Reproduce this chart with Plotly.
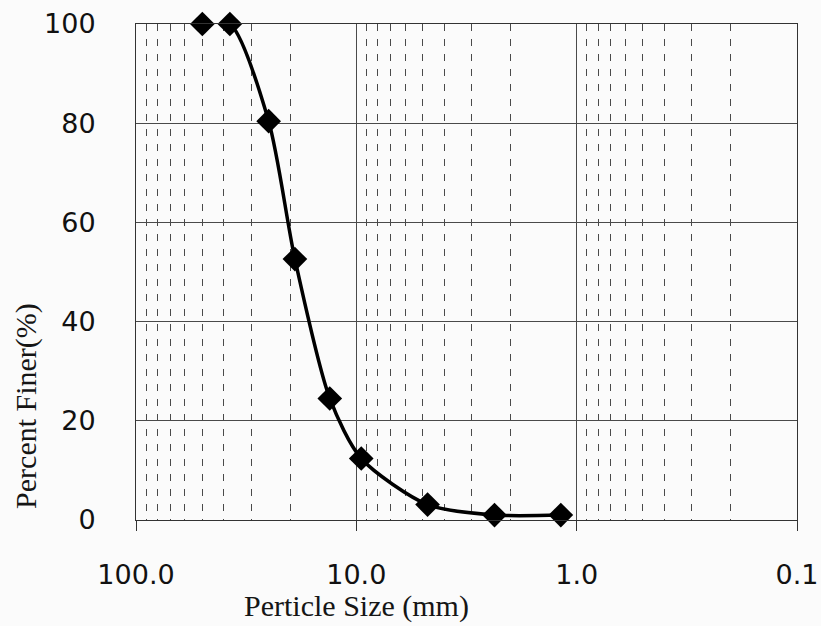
import plotly.graph_objects as go

# Data (particle size in mm, percent finer)
particle_size_mm = [50, 37.5, 25, 19, 13.2, 9.5, 4.75, 2.36, 1.18]
percent_finer = [100, 100, 80.4, 52.6, 24.5, 12.4, 3.1, 1.0, 1.0]

x_title = "Perticle Size (mm)"
y_title = "Percent Finer(%)"

grid_col = "#4a4a4a"
tick_font = dict(family="DejaVu Sans", size=27, color="#111111")
title_font = dict(family="Liberation Serif", size=30, color="#151515")

fig = go.Figure(
    go.Scatter(
        x=particle_size_mm,
        y=percent_finer,
        mode="lines+markers",
        line=dict(color="black", width=3.5, shape="spline", smoothing=0.75),
        marker=dict(symbol="diamond", size=19, color="black"),
        cliponaxis=False,
        showlegend=False,
    )
)

fig.update_layout(
    width=821,
    height=626,
    margin=dict(l=136, r=24, t=24, b=106),
    paper_bgcolor="#fbfbfb",
    plot_bgcolor="#fbfbfb",
    xaxis=dict(
        type="log",
        range=[2, -1],
        dtick=1,
        tickformat=".1f",
        automargin=False,
        showgrid=True,
        gridcolor=grid_col,
        gridwidth=1,
        ticks="outside",
        ticklen=10,
        tickcolor="#333",
        showline=True,
        linecolor="#333",
        linewidth=1,
        mirror=True,
        zeroline=False,
        tickfont=tick_font,
        ticklabelstandoff=21,
        minor=dict(
            dtick="D1",
            showgrid=True,
            griddash="7px,8px",
            gridcolor=grid_col,
            gridwidth=1,
            ticks="",
        ),
    ),
    yaxis=dict(
        range=[0, 100],
        dtick=20,
        automargin=False,
        showgrid=True,
        gridcolor=grid_col,
        gridwidth=1,
        ticks="",
        showline=True,
        linecolor="#333",
        linewidth=1,
        mirror=True,
        zeroline=False,
        tickfont=tick_font,
        ticklabelstandoff=34,
    ),
    annotations=[
        dict(
            text=x_title,
            xref="paper",
            yref="paper",
            x=0.333,
            y=0,
            yshift=-86,
            xanchor="center",
            yanchor="middle",
            showarrow=False,
            font=title_font,
        ),
        dict(
            text=y_title,
            xref="paper",
            yref="paper",
            x=0,
            y=0.23,
            xshift=-110,
            xanchor="center",
            yanchor="middle",
            textangle=-90,
            showarrow=False,
            font=title_font,
        ),
    ],
)

fig.write_html("out.html")
